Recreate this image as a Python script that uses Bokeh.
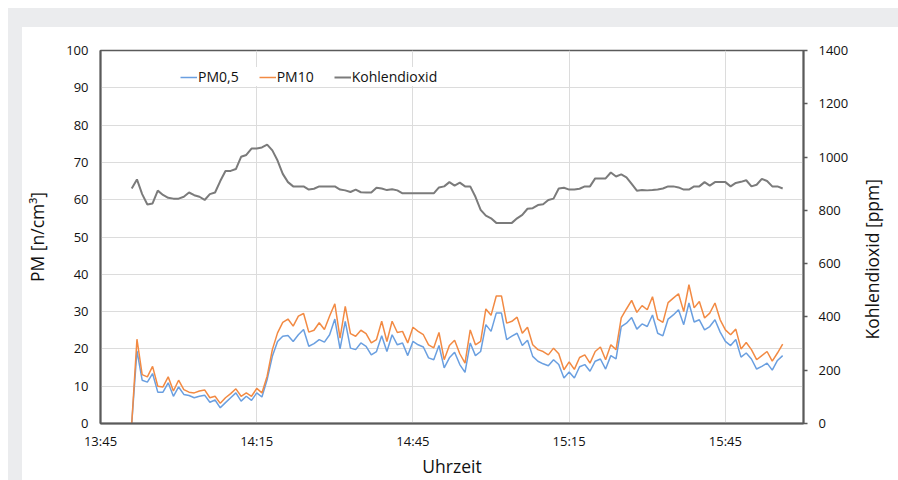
from bokeh.plotting import figure
from bokeh.models import Range1d, LinearAxis, FixedTicker, Legend, LegendItem, Spacer, Div
from bokeh.layouts import column, row
from bokeh.embed import file_html
from bokeh.resources import INLINE

FONT = "Open Sans"

# minutes after 13:45, one reading per minute (13:51 ... 15:56)
minutes = list(range(6, 132))

pm05 = [0, 19.5, 11.6, 11.1, 13.4, 8.4, 8.4, 10.9, 7.3, 9.8,
        7.8, 7.5, 6.9, 7.3, 7.6, 5.7, 6.3, 4.2, 5.6, 6.9,
        8.2, 6.0, 7.3, 6.2, 8.2, 7.1, 11.8, 18.0, 22.0, 23.4,
        23.6, 22.0, 23.8, 25.2, 20.7, 21.4, 22.5, 21.8, 23.8, 28.0,
        20.0, 27.4, 20.2, 19.8, 21.6, 20.7, 18.4, 19.3, 23.5, 19.3,
        23.8, 21.1, 21.6, 18.2, 22.0, 21.1, 20.5, 17.6, 17.1, 20.9,
        14.9, 17.6, 19.1, 15.8, 13.7, 21.6, 18.2, 19.3, 26.5, 24.7,
        29.6, 29.6, 22.5, 23.4, 24.2, 20.9, 22.3, 18.0, 16.7, 16.0,
        15.5, 17.1, 15.8, 12.2, 13.8, 12.2, 15.2, 15.8, 14.0, 16.7,
        17.3, 14.6, 18.2, 17.3, 26.0, 26.9, 28.4, 25.3, 26.7, 26.0,
        29.1, 24.2, 23.5, 28.0, 29.1, 30.5, 26.5, 32.3, 27.2, 27.8,
        25.1, 26.0, 27.8, 24.5, 22.0, 20.9, 22.5, 17.8, 18.9, 17.3,
        14.6, 15.3, 16.2, 14.3, 16.9, 18.2]

pm10 = [0, 22.6, 13.1, 12.5, 15.3, 10.0, 9.8, 12.5, 8.7, 11.6,
        9.1, 8.4, 8.2, 8.7, 9.0, 6.9, 7.3, 5.4, 6.9, 8.0,
        9.3, 7.3, 8.2, 7.3, 9.4, 8.2, 12.7, 19.8, 24.3, 27.1,
        28.0, 26.1, 28.8, 29.5, 24.5, 25.0, 27.0, 25.2, 28.8, 32.1,
        22.9, 31.4, 24.1, 23.4, 25.0, 24.1, 21.6, 22.5, 27.4, 22.0,
        27.4, 24.4, 24.7, 21.6, 25.8, 24.7, 23.8, 21.1, 20.3, 24.4,
        17.1, 20.9, 22.3, 18.7, 16.2, 25.1, 21.1, 22.0, 30.7, 29.0,
        34.2, 34.2, 26.9, 27.4, 28.5, 24.2, 25.8, 21.1, 19.8, 19.3,
        18.4, 20.2, 18.7, 14.4, 16.5, 14.5, 17.7, 18.4, 16.2, 19.3,
        20.5, 17.1, 21.1, 19.8, 28.3, 30.7, 33.0, 29.8, 31.6, 30.5,
        34.0, 28.0, 27.1, 32.4, 33.6, 34.8, 30.0, 37.2, 31.0, 32.7,
        28.3, 29.6, 32.3, 27.8, 25.1, 23.8, 25.3, 20.0, 21.7, 19.8,
        17.1, 18.2, 19.3, 16.7, 18.9, 21.3]

co2 = [882, 916, 861, 822, 826, 874, 858, 847, 844, 844,
       851, 867, 857, 851, 839, 861, 867, 910, 948, 948,
       955, 1001, 1008, 1032, 1032, 1036, 1047, 1025, 987, 937,
       906, 890, 890, 890, 878, 881, 890, 890, 890, 890,
       878, 875, 869, 878, 868, 867, 867, 885, 882, 876,
       879, 875, 864, 864, 864, 864, 864, 864, 864, 886,
       890, 906, 893, 904, 890, 890, 851, 802, 780, 770,
       753, 753, 753, 753, 770, 783, 806, 808, 820, 823,
       839, 844, 882, 885, 878, 878, 881, 890, 890, 920,
       920, 920, 942, 927, 935, 924, 899, 874, 876, 875,
       876, 878, 882, 890, 890, 886, 878, 878, 890, 890,
       906, 893, 906, 906, 906, 890, 903, 907, 913, 890,
       896, 918, 910, 890, 890, 882]

time_ticks = [0, 30, 60, 90, 120]
time_labels = ["13:45", "14:15", "14:45", "15:15", "15:45"]
pm_ticks = list(range(0, 101, 10))
co2_ticks = list(range(0, 1401, 200))

series_names = ["PM0,5", "PM10", "Kohlendioxid"]
colors = ["#6a9fe0", "#f28a43", "#7b7b7b"]
x_title = "Uhrzeit"
y_title = "PM [n/cm³]"
y2_title = "Kohlendioxid [ppm]"

AXIS_COLOR = "#5a5a5a"
TEXT_COLOR = "#111111"
GRID_COLOR = "#dcdcdc"
BG_GRAY = "#ebecee"

p = figure(width=833, height=453,
           x_range=Range1d(0, 135), y_range=Range1d(0, 100),
           output_backend="svg", toolbar_location=None,
           min_border_left=77, min_border_right=52,
           min_border_top=23, min_border_bottom=56,
           background_fill_color="white", border_fill_color="white",
           outline_line_color=AXIS_COLOR, outline_line_width=1.5)
p.extra_y_ranges = {"co2": Range1d(0, 1400)}

# bottom axis
xa = p.xaxis[0]
xa.ticker = FixedTicker(ticks=time_ticks)
xa.major_label_overrides = {t: l for t, l in zip(time_ticks, time_labels)}
xa.axis_label = x_title
xa.major_label_standoff = 8
xa.axis_label_standoff = 1

# left axis
ya = p.yaxis[0]
ya.ticker = FixedTicker(ticks=pm_ticks)
ya.axis_label = y_title
ya.major_label_standoff = 12
ya.axis_label_standoff = 14

# right axis (its title is set beside the plot so that it reads bottom-to-top)
ra = LinearAxis(y_range_name="co2", ticker=FixedTicker(ticks=co2_ticks))
p.add_layout(ra, "right")
ra.major_label_standoff = 11

for ax in (xa, ya, ra):
    ax.axis_line_color = AXIS_COLOR
    ax.axis_line_width = 2
    ax.major_tick_in = 0
    ax.major_tick_out = 0
    ax.minor_tick_line_color = None
    ax.major_label_text_font = FONT
    ax.major_label_text_font_size = "13px"
    ax.major_label_text_color = TEXT_COLOR
    ax.axis_label_text_font = FONT
    ax.axis_label_text_font_size = "17.5px"
    ax.axis_label_text_font_style = "normal"
    ax.axis_label_text_color = TEXT_COLOR
ra.major_tick_out = 4
ra.major_tick_line_color = AXIS_COLOR
ra.major_tick_line_width = 1.5

p.xgrid.ticker = FixedTicker(ticks=time_ticks)
p.xgrid.grid_line_color = GRID_COLOR
p.ygrid.ticker = FixedTicker(ticks=pm_ticks)
p.ygrid.grid_line_color = GRID_COLOR

r1 = p.line(minutes, pm05, line_color=colors[0], line_width=1.5)
r2 = p.line(minutes, pm10, line_color=colors[1], line_width=1.5)
r3 = p.line(minutes, co2, line_color=colors[2], line_width=2, y_range_name="co2")

legend = Legend(items=[LegendItem(label=series_names[0], renderers=[r1]),
                       LegendItem(label=series_names[1], renderers=[r2]),
                       LegendItem(label=series_names[2], renderers=[r3])],
                orientation="horizontal", location=(80, 337),
                background_fill_color="white", background_fill_alpha=1,
                border_line_color=None, margin=0, padding=8,
                glyph_width=17, glyph_height=18, label_height=18,
                label_standoff=1, spacing=20,
                label_text_font=FONT, label_text_font_size="14px",
                label_text_color=TEXT_COLOR)
p.add_layout(legend)

y2_label = Div(
    text=('<div style="writing-mode: vertical-rl; transform: rotate(180deg); '
          'white-space: nowrap; font-family: \'Open Sans\'; font-size: 17.5px; '
          'line-height: 24px; color: %s; margin-top: 147px; margin-left: 0px;">%s</div>'
          % (TEXT_COLOR, y2_title)),
    width=40, height=453, styles={"background-color": "white"})

panel = column(Spacer(width=890, height=19, styles={"background-color": BG_GRAY}),
               row(Spacer(width=14, height=453, styles={"background-color": BG_GRAY}),
                   p, y2_label,
                   Spacer(width=3, height=453, styles={"background-color": BG_GRAY})))
layout = column(Spacer(width=898, height=8),
                row(Spacer(width=8, height=472), panel))

open("out.html", "w").write(file_html(layout, INLINE))
